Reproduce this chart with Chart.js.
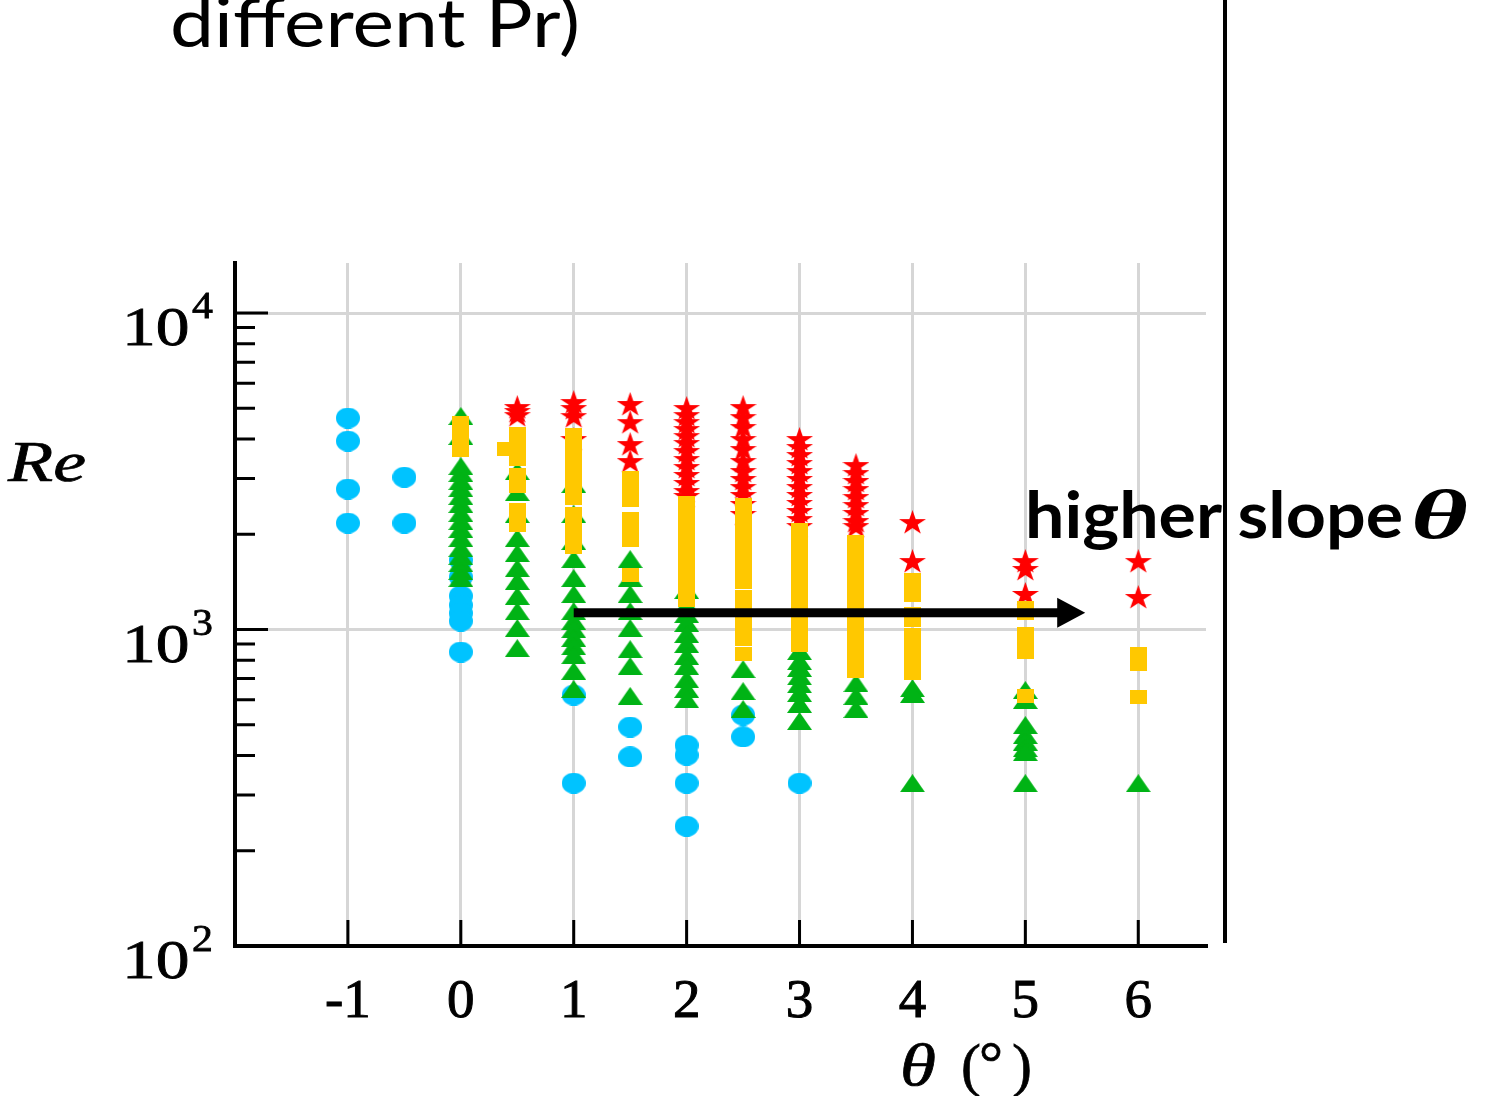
<!DOCTYPE html>
<html>
<head>
<meta charset="utf-8">
<script src="https://cdn.jsdelivr.net/npm/chart.js@4.4.1/dist/chart.umd.min.js"></script>
<style>
  html, body { margin: 0; padding: 0; background: #fff; }
  #wrap { position: relative; width: 1485px; height: 1096px; overflow: hidden; }
  #reChart { position: absolute; left: 0; top: 0; }
  #notes { position: absolute; left: 0; top: 0; }
</style>
</head>
<body>
<div id="wrap">
  <canvas id="reChart" width="1485" height="1096"></canvas>
  <svg id="notes" width="1485" height="1096">
    <text x="170" y="47" font-family="Lato" font-size="68" textLength="410" lengthAdjust="spacingAndGlyphs">different Pr)</text>
    <line x1="1225" y1="0" x2="1225" y2="943" stroke="#000" stroke-width="4"/>
    <text x="8" y="481" font-family="Liberation Serif" font-style="italic" font-size="58" stroke="#000" stroke-width="0.7" textLength="78" lengthAdjust="spacingAndGlyphs">Re</text>
    <g font-family="Liberation Serif" font-size="60" stroke="#000" stroke-width="0.7">
      <text x="900" y="1085" font-style="italic" textLength="36" lengthAdjust="spacingAndGlyphs">θ</text>
      <text x="961" y="1085">(</text>
      <text x="979" y="1083">°</text>
      <text x="1012" y="1085">)</text>
    </g>
    <text x="1025" y="538" font-family="Lato" font-weight="bold" font-size="65" textLength="378" lengthAdjust="spacingAndGlyphs">higher slope</text>
    <text x="1411" y="538" font-family="Liberation Serif" font-weight="bold" font-style="italic" font-size="70" textLength="57" lengthAdjust="spacingAndGlyphs">θ</text>
  </svg>
</div>
<script>
// slope columns (degrees) shared by all series
var thetaCols = [-1, -0.5, 0, 0.4, 0.5, 1, 1.5, 2, 2.5, 3, 3.5, 4, 5, 6];

// Re values per column, one list per Pr group
var blueRe = [
    [4660, 3940, 2780, 2170],
    [3030, 2170],
    [1658, 1466, 1277, 1195, 1127, 1064, 849],
    [],
    [],
    [621, 327],
    [492, 396],
    [431, 401, 327, 239],
    [537, 458],
    [327],
    [], [], [], []
];
var greenRe = [
    [], [],
    [4730, 4090, 3285, 3122, 2946, 2799, 2642, 2493, 2334, 2202, 2078, 1946, 1809, 1707, 1622, 1531, 1455],
    [],
    [3168, 2719, 2318, 1946, 1745, 1564, 1424, 1277, 1144, 1011, 874],
    [2883, 2318, 1904, 1670, 1455, 1295, 1144, 1064, 1003, 940, 886, 830, 740, 649],
    [1670, 1455, 1295, 1144, 1011, 867, 767, 617],
    [1333, 1195, 1119, 1049, 968, 900, 825, 767, 697, 649, 603],
    [750, 639, 561],
    [855, 795, 756, 712, 672, 630, 582, 514],
    [677, 617, 561],
    [653, 626, 327],
    [644, 599, 499, 464, 442, 422, 410, 327],
    [327]
];
var yellowRe = [
    [], [],
    [4491, 4269, 4056, 3856, 3691],
    [3718],
    [4147, 3940, 3745, 3560, 3457, 3077, 2840, 2386, 2250, 2140],
    [4116, 3912, 3718, 3533, 3358, 3191, 3033, 2883, 2739, 2603, 2318, 2093, 1990, 1890, 1822],
    [3011, 2862, 2719, 2566, 2234, 2124, 1918, 1487],
    [2511, 2386, 2267, 2155, 2048, 1946, 1850, 1757, 1670, 1587, 1509, 1434, 1362, 1295, 1240],
    [2475, 2352, 2234, 2124, 2018, 1822, 1732, 1646, 1564, 1487, 1413, 1267, 1205, 1144, 1088, 1034, 982, 933, 836],
    [2063, 1960, 1863, 1770, 1682, 1599, 1520, 1444, 1372, 1304, 1240, 1177, 1119, 1064, 1011, 961, 893],
    [1890, 1796, 1707, 1622, 1542, 1466, 1393, 1323, 1258, 1195, 1135, 1080, 1025, 975, 926, 880, 836, 795, 740],
    [1434, 1352, 1286, 1119, 1072, 961, 913, 861, 813, 767, 729],
    [1169, 1127, 968, 913, 849, 617],
    [836, 778, 612]
];
var redRe = [
    [], [], [], [],
    [5009, 4866, 4725],
    [5196, 4973, 4691, 3969],
    [5122, 4491, 3828, 3382],
    [4973, 4725, 4491, 4269, 4056, 3856, 3638, 3432, 3238, 3056, 2883, 2719, 2623],
    [5009, 4657, 4332, 3969, 3691, 3382, 3145, 2968, 2799, 2642, 2475, 2301],
    [3969, 3745, 3533, 3334, 3145, 2968, 2799, 2642, 2493, 2352, 2218, 2108],
    [3285, 3100, 2925, 2759, 2603, 2456, 2318, 2186, 2108],
    [2170, 1634],
    [1634, 1542, 1286],
    [1634, 1258]
];

var xTickValues = [-1, 0, 1, 2, 3, 4, 5, 6];
var yMajorValues = [100, 1000, 10000];
var yMajorExp = ['2', '3', '4'];
var yMinorValues = [200, 300, 400, 500, 600, 700, 800, 900, 2000, 3000, 4000, 5000, 6000, 7000, 8000, 9000];

// the "higher slope" arrow, in data units
var arrowTheta = [1, 5.53];
var arrowRe = 1130;

function toPoints(cols) {
    var pts = [];
    cols.forEach(function(vals, i) {
        vals.forEach(function(v) { pts.push({ x: thetaCols[i], y: v }); });
    });
    return pts;
}

// markers as small canvases so they can be a bit wider than tall like the source
function marker(shape, w, h, color) {
    var c = document.createElement('canvas');
    c.width = w;
    c.height = h;
    var g = c.getContext('2d');
    g.fillStyle = color;
    g.beginPath();
    if (shape === 'ellipse') {
        g.ellipse(w / 2, h / 2, w / 2, h / 2, 0, 0, 2 * Math.PI);
    } else if (shape === 'triangle') {
        g.moveTo(w / 2, 0);
        g.lineTo(w, h);
        g.lineTo(0, h);
    } else if (shape === 'square') {
        g.rect(0, 0, w, h);
    } else if (shape === 'star') {
        for (var k = 0; k < 10; k++) {
            var a = -Math.PI / 2 + k * Math.PI / 5;
            var r = k % 2 === 0 ? 1 : 0.382;
            var px = w / 2 + Math.cos(a) * r * (w / 2) / 0.951;
            var py = h / 2 + Math.sin(a) * r * (h / 2);
            if (k === 0) g.moveTo(px, py); else g.lineTo(px, py);
        }
    }
    g.closePath();
    g.fill();
    return c;
}

var axisDecor = {
    id: 'axisDecor',
    afterDatasetsDraw: function(chart) {
        var ctx = chart.ctx;
        var xs = chart.scales.x, ys = chart.scales.y;
        var x0 = xs.getPixelForValue(arrowTheta[0]);
        var x1 = xs.getPixelForValue(arrowTheta[1]);
        var yy = ys.getPixelForValue(arrowRe);
        ctx.save();
        ctx.fillStyle = '#000';
        ctx.fillRect(x0, yy - 4.5, x1 - x0 - 26, 9);
        ctx.beginPath();
        ctx.moveTo(x1, yy);
        ctx.lineTo(x1 - 28, yy - 15);
        ctx.lineTo(x1 - 28, yy + 15);
        ctx.closePath();
        ctx.fill();
        ctx.restore();
    },
    afterDraw: function(chart) {
        var ctx = chart.ctx;
        var area = chart.chartArea;
        var xs = chart.scales.x, ys = chart.scales.y;
        ctx.save();
        ctx.strokeStyle = '#000';
        ctx.lineWidth = 3;
        ctx.beginPath();
        xTickValues.forEach(function(v) {
            var px = xs.getPixelForValue(v);
            ctx.moveTo(px, area.bottom);
            ctx.lineTo(px, area.bottom - 26);
        });
        yMajorValues.forEach(function(v) {
            var py = ys.getPixelForValue(v);
            ctx.moveTo(area.left, py);
            ctx.lineTo(area.left + 33, py);
        });
        yMinorValues.forEach(function(v) {
            var py = ys.getPixelForValue(v);
            ctx.moveTo(area.left, py);
            ctx.lineTo(area.left + 20, py);
        });
        ctx.stroke();

        // 10^n labels, "10" a little wider than the plain font
        ctx.fillStyle = '#000';
        ctx.lineWidth = 0.8;
        ctx.textBaseline = 'alphabetic';
        yMajorValues.forEach(function(v, i) {
            var py = ys.getPixelForValue(v);
            ctx.save();
            ctx.translate(122, py + 32);
            ctx.scale(1.25, 1);
            ctx.font = '54px "Liberation Serif"';
            ctx.textAlign = 'left';
            ctx.fillText('10', 0, 0);
            ctx.strokeText('10', 0, 0);
            ctx.restore();
            ctx.save();
            ctx.translate(192, py + 5);
            ctx.scale(1.1, 1);
            ctx.font = '38px "Liberation Serif"';
            ctx.textAlign = 'left';
            ctx.fillText(yMajorExp[i], 0, 0);
            ctx.strokeText(yMajorExp[i], 0, 0);
            ctx.restore();
        });
        ctx.restore();
    }
};

var ctx = document.getElementById('reChart').getContext('2d');
var reChart = new Chart(ctx, {
    type: 'scatter',
    data: {
        datasets: [
            { label: 'yellow', data: toPoints(yellowRe), pointStyle: marker('square', 17, 14, '#ffc800'), pointRadius: 6, order: 0 },
            { label: 'red', data: toPoints(redRe), pointStyle: marker('star', 27, 26, '#ff0000'), pointRadius: 6, order: 1 },
            { label: 'green', data: toPoints(greenRe), pointStyle: marker('triangle', 25, 18, '#00b315'), pointRadius: 6, order: 2 },
            { label: 'blue', data: toPoints(blueRe), pointStyle: marker('ellipse', 24, 21, '#00c3ff'), pointRadius: 6, order: 3 }
        ]
    },
    options: {
        responsive: false,
        animation: false,
        layout: { padding: { left: 0, top: 263, right: 279, bottom: 50 } },
        plugins: { legend: { display: false }, tooltip: { enabled: false } },
        scales: {
            x: {
                type: 'linear',
                min: -2,
                max: 6.6,
                afterBuildTicks: function(scale) {
                    scale.ticks = xTickValues.map(function(v) { return { value: v }; });
                },
                afterFit: function(scale) { scale.height = 100; },
                grid: { color: '#d6d6d6', lineWidth: 3, drawTicks: false },
                border: { color: '#000', width: 4 },
                ticks: {
                    padding: 24,
                    color: '#000',
                    textStrokeColor: '#000',
                    textStrokeWidth: 1,
                    font: { family: 'Liberation Serif', size: 55 },
                    maxRotation: 0,
                    callback: function(value) { return String(value); }
                }
            },
            y: {
                type: 'logarithmic',
                min: 100,
                max: 14400,
                afterBuildTicks: function(scale) {
                    scale.ticks = yMajorValues.map(function(v) { return { value: v }; });
                },
                afterFit: function(scale) { scale.width = 235; },
                grid: { color: '#d6d6d6', lineWidth: 3, drawTicks: false },
                border: { color: '#000', width: 4 },
                ticks: { display: false }
            }
        }
    },
    plugins: [axisDecor]
});
</script>
</body>
</html>
